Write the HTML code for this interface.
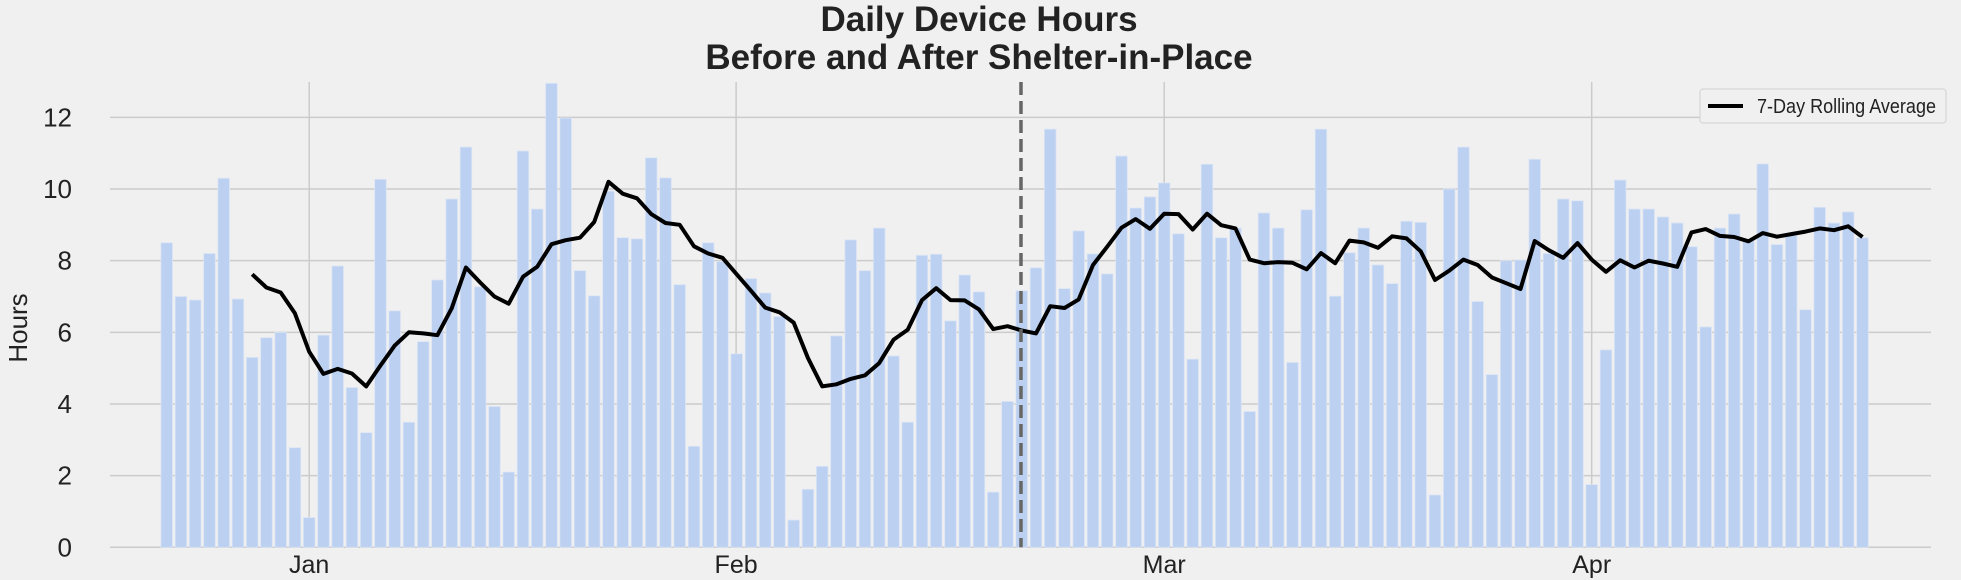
<!DOCTYPE html>
<html><head><meta charset="utf-8">
<style>
html,body{margin:0;padding:0;background:#f0f0f0;}
svg{display:block;font-family:"Liberation Sans",sans-serif;}
</style></head>
<body>
<svg id="chart" width="1961" height="580" viewBox="0 0 1961 580" xmlns="http://www.w3.org/2000/svg">
<rect x="0" y="0" width="1961" height="580" fill="#f0f0f0"/>
<text x="979" y="31" text-anchor="middle" font-size="35" font-weight="bold" fill="#222">Daily Device Hours</text>
<text x="979" y="69" text-anchor="middle" font-size="35" font-weight="bold" fill="#222">Before and After Shelter-in-Place</text>
<text transform="translate(27,328) rotate(-90)" text-anchor="middle" font-size="26" fill="#222">Hours</text>
<g id="grid"></g>
<g id="bars"></g>
<g id="line"></g>
<g id="axes"></g>
<g>
<rect x="1700" y="89" width="246" height="34" rx="3" fill="#f0f0f0" stroke="#d6d6d6" stroke-width="1.2"/>
<line x1="1708" y1="106" x2="1743" y2="106" stroke="#000" stroke-width="4"/>
<text x="1757" y="113" font-size="20" textLength="179" lengthAdjust="spacingAndGlyphs" fill="#222">7-Day Rolling Average</text>
</g>
</svg>
<script>
const hours = [8.5,7.0,6.9,8.2,10.3,6.93,5.3,5.85,6.0,2.78,0.83,5.92,7.85,4.46,3.2,10.27,6.6,3.49,5.74,7.46,
9.72,11.17,7.27,3.93,2.1,11.06,9.44,12.95,11.98,7.72,7.02,9.94,8.64,8.61,10.87,10.31,7.33,2.82,8.5,7.98,
5.4,7.5,7.1,6.44,0.76,1.62,2.26,5.9,8.58,7.72,8.91,5.34,3.49,8.15,8.18,6.32,7.6,7.13,1.54,4.07,
7.16,7.8,11.67,7.22,8.83,8.19,7.63,10.92,9.47,9.78,10.17,8.75,5.25,10.69,8.64,8.91,3.79,9.33,8.91,5.16,
9.42,11.67,7.01,8.22,8.91,7.88,7.36,9.1,9.07,1.46,10.0,11.17,6.86,4.82,8.0,8.02,10.83,8.2,9.72,9.67,
1.75,5.51,10.25,9.44,9.44,9.22,9.05,8.39,6.15,8.91,9.3,8.55,10.7,8.45,8.7,6.63,9.49,9.05,9.36,8.64];
const rolling = [null,null,null,null,null,null,7.62,7.25,7.11,6.53,5.46,4.84,4.98,4.85,4.49,5.07,5.63,6.0,5.97,5.92,
6.67,7.81,7.39,7.0,6.8,7.55,7.83,8.46,8.57,8.64,9.08,10.2,9.87,9.74,9.3,9.05,9.0,8.4,8.2,8.08,
7.62,7.16,6.69,6.56,6.27,5.28,4.49,4.55,4.7,4.8,5.14,5.79,6.07,6.9,7.23,6.9,6.89,6.64,6.09,6.17,
6.05,5.97,6.73,6.68,6.92,7.88,8.39,8.92,9.16,8.89,9.31,9.3,8.87,9.31,8.99,8.9,8.03,7.93,7.96,7.94,
7.76,8.21,7.93,8.56,8.51,8.36,8.68,8.62,8.26,7.46,7.72,8.03,7.88,7.53,7.37,7.21,8.55,8.29,8.08,8.49,
8.03,7.69,8.01,7.81,8.0,7.92,7.83,8.79,8.88,8.69,8.66,8.54,8.77,8.67,8.74,8.81,8.9,8.85,8.96,8.66];
const yTicks = [0,2,4,6,8,10,12];
const monthLabels = ["Jan","Feb","Mar","Apr"];
const monthIndex = [10,40,70,100];
const shelterIndex = 59.95;

const NS="http://www.w3.org/2000/svg";
const L=110,R=1931,T=82,B=547.3;
function x(i){return 166.7+i*14.25;}
function y(v){return B-v*35.83;}
function mk(tag,attrs,parent){const e=document.createElementNS(NS,tag);for(const k in attrs)e.setAttribute(k,attrs[k]);parent.appendChild(e);return e;}
const grid=document.getElementById('grid'),bars=document.getElementById('bars'),line=document.getElementById('line'),axes=document.getElementById('axes');
yTicks.forEach(t=>{
  const g=mk('line',{x1:L,x2:R,y1:y(t),y2:y(t),stroke:'#cbcbcb','stroke-width':1.5},grid);
  
  
  const lb=mk('text',{x:72,y:y(t)+9,'text-anchor':'end','font-size':26,fill:'#222'},axes);
  lb.textContent=t;
  
  
});
monthIndex.forEach((mi,k)=>{
  const xx=x(mi)+ (k===1?-0.6:0);
  const g=mk('line',{x1:xx,x2:xx,y1:T,y2:B,stroke:'#cbcbcb','stroke-width':1.5},grid);
  
  
  const lb=mk('text',{x:xx,y:573,'text-anchor':'middle','font-size':25,fill:'#222'},axes);
  lb.textContent=monthLabels[k];
  
  
});
hours.forEach((v,i)=>{
  const top=Math.max(y(v),T);
  const r=mk('rect',{x:x(i)-5.8,y:top,width:11.6,height:B-top,fill:'#bcd0f1',stroke:'#dbe5f5','stroke-width':0.8},bars);
  
  
});
let d='';
rolling.forEach((v,i)=>{if(v==null)return;d+=(d?'L':'M')+x(i).toFixed(1)+','+y(v).toFixed(1);});
const p=mk('path',{d:d,fill:'none',stroke:'#000','stroke-width':4,'stroke-linejoin':'round'},line);


const dl=mk('line',{x1:x(shelterIndex),x2:x(shelterIndex),y1:T,y2:B,stroke:'#666','stroke-width':3.5,'stroke-dasharray':'13,6'},line);


</script>
</body></html>
